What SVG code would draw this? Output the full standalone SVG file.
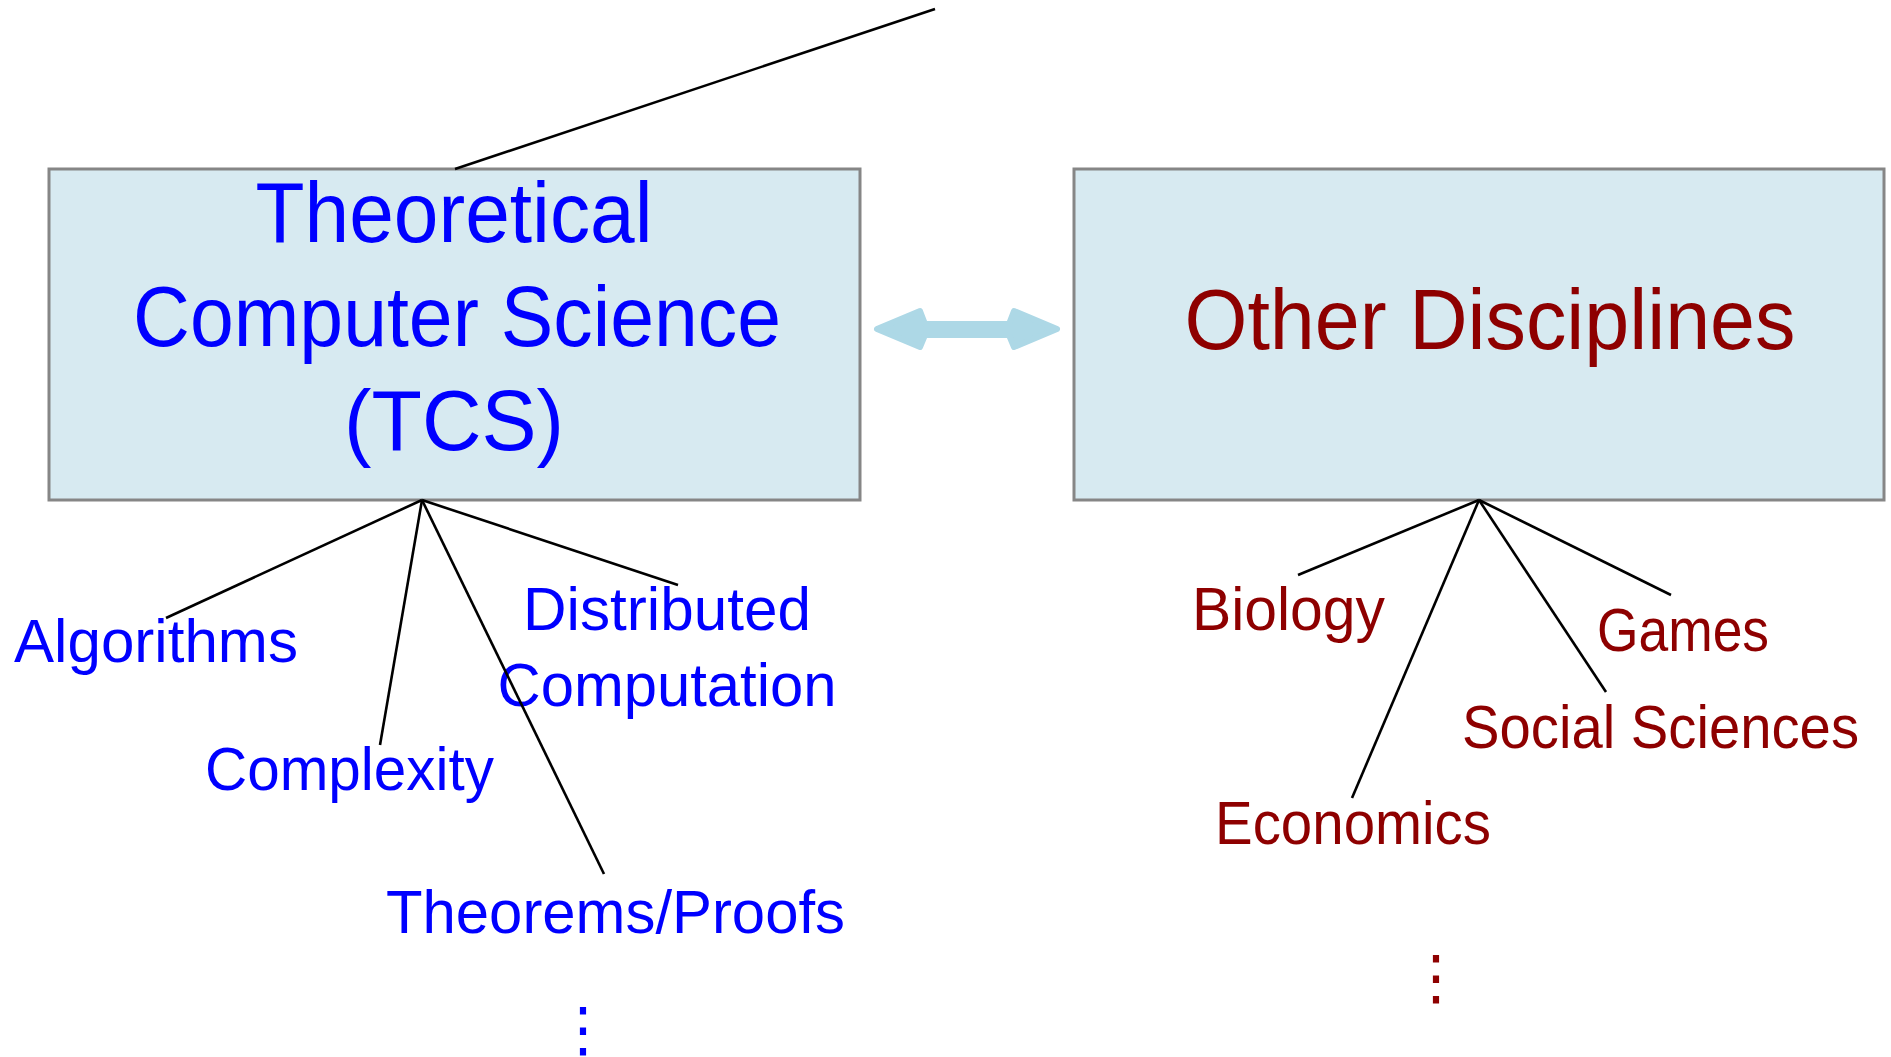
<svg xmlns="http://www.w3.org/2000/svg" width="1891" height="1057" viewBox="0 0 1891 1057">
<style>
.box{fill:#d7eaf1;stroke:#868686;stroke-width:3}
.big{font-family:"Liberation Sans",Arial,sans-serif;font-size:85px}
.sub{font-family:"Liberation Sans",Arial,sans-serif;font-size:61px}
.blue{fill:#0000ff}
.red{fill:#8e0000}
.conn line{stroke:#000;stroke-width:2.6;stroke-linecap:butt}
.dots{font-family:"DejaVu Sans",sans-serif;font-size:60px}
</style>
<rect width="1891" height="1057" fill="#ffffff"/>
<g id="tcs">
<rect class="box" x="49" y="169" width="811" height="331"/>
<text class="big blue" x="454" y="242" text-anchor="middle" textLength="397" lengthAdjust="spacingAndGlyphs">Theoretical</text>
<text class="big blue" x="457" y="346" text-anchor="middle" textLength="648" lengthAdjust="spacingAndGlyphs">Computer Science</text>
<text class="big blue" x="454" y="450" text-anchor="middle" textLength="220" lengthAdjust="spacingAndGlyphs">(TCS)</text>
</g>
<g id="other">
<rect class="box" x="1074" y="169" width="810" height="331"/>
<text class="big red" x="1490" y="349" text-anchor="middle" textLength="611" lengthAdjust="spacingAndGlyphs">Other Disciplines</text>
</g>
<g id="exchange">
<path d="M877,329 L920,311 L925,324 L1009,324 L1014,311 L1057,329 L1014,347 L1009,335 L925,335 L920,347 Z" fill="#add8e6" stroke="#add8e6" stroke-width="6" stroke-linejoin="round"/>
</g>
<g id="algorithms"><text class="sub blue" x="14" y="662" textLength="284" lengthAdjust="spacingAndGlyphs">Algorithms</text></g>
<g id="complexity"><text class="sub blue" x="205" y="790" textLength="289" lengthAdjust="spacingAndGlyphs">Complexity</text></g>
<g id="distributed"><text class="sub blue" x="667" y="630" text-anchor="middle" textLength="288" lengthAdjust="spacingAndGlyphs">Distributed</text>
<text class="sub blue" x="667" y="706" text-anchor="middle" textLength="339" lengthAdjust="spacingAndGlyphs">Computation</text></g>
<g id="theorems"><text class="sub blue" x="386" y="933" textLength="459" lengthAdjust="spacingAndGlyphs">Theorems/Proofs</text></g>
<g id="tcs-more"><text class="dots blue" x="583" y="1050" text-anchor="middle">⋮</text></g>
<g id="biology"><text class="sub red" x="1192" y="630" textLength="193" lengthAdjust="spacingAndGlyphs">Biology</text></g>
<g id="games"><text class="sub red" x="1597" y="651" textLength="172" lengthAdjust="spacingAndGlyphs">Games</text></g>
<g id="social"><text class="sub red" x="1462" y="748" textLength="397" lengthAdjust="spacingAndGlyphs">Social Sciences</text></g>
<g id="economics"><text class="sub red" x="1215" y="844" textLength="276" lengthAdjust="spacingAndGlyphs">Economics</text></g>
<g id="other-more"><text class="dots red" x="1436" y="998" text-anchor="middle">⋮</text></g>
<g id="connectors" class="conn">
<line x1="935" y1="9" x2="455" y2="169"/>
<line x1="422" y1="500" x2="166" y2="618"/>
<line x1="422" y1="500" x2="380" y2="745"/>
<line x1="422" y1="500" x2="604" y2="874"/>
<line x1="422" y1="500" x2="678" y2="585"/>
<line x1="1479" y1="500" x2="1298" y2="575"/>
<line x1="1479" y1="500" x2="1352" y2="798"/>
<line x1="1479" y1="500" x2="1606" y2="692"/>
<line x1="1479" y1="500" x2="1671" y2="595"/>
</g>
</svg>
